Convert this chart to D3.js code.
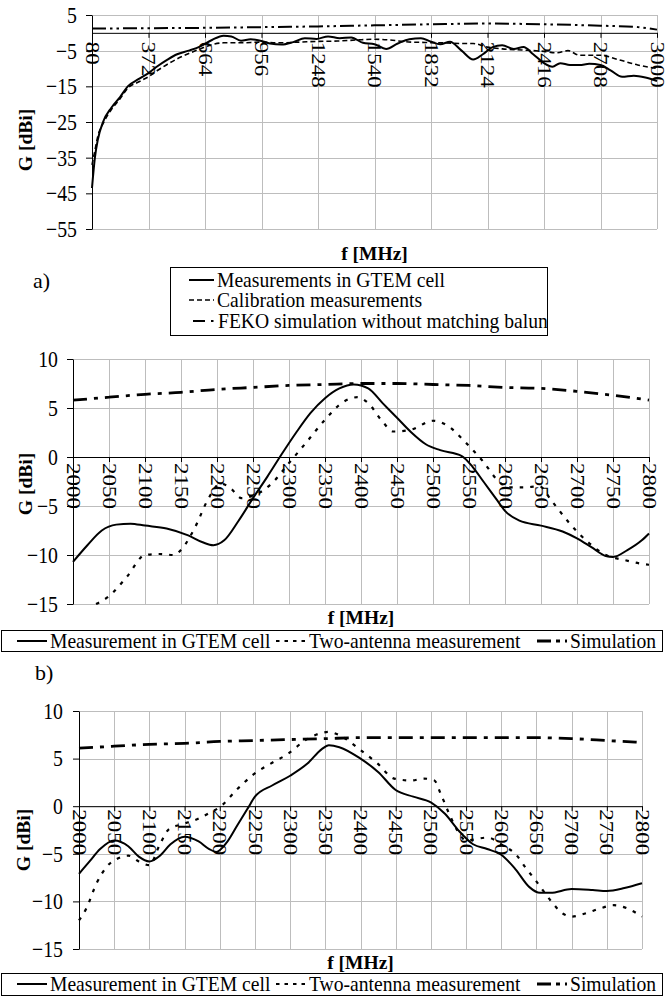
<!DOCTYPE html>
<html>
<head>
<meta charset="utf-8">
<script src="https://cdn.jsdelivr.net/npm/d3@7"></script>
<style>
body { margin: 0; background: #fff; }
svg text { font-family: "Liberation Serif", "DejaVu Serif", "Times New Roman", Times, serif; fill: #000; }
</style>
</head>
<body>
<svg id="fig" width="665" height="1007" font-family="Liberation Serif, DejaVu Serif, serif"></svg>
<script>
// ---- panel a) data ----
var aTicks = [80, 372, 664, 956, 1248, 1540, 1832, 2124, 2416, 2708, 3000];
var aYTicks = [5, -5, -15, -25, -35, -45, -55];
var aMeasF = [80,95,110,137,180,225,265,320,372,420,470,520,580,640,700,760,800,850,900,950,1000,1060,1120,1180,1240,1300,1360,1420,1480,1540,1600,1660,1720,1780,1832,1880,1930,1990,2050,2100,2150,2200,2260,2310,2360,2416,2460,2500,2550,2600,2650,2708,2760,2820,2880,2940,3000];
var aMeasG = [-43.5,-35,-30,-25,-21,-18,-15,-13,-11.3,-9.3,-7.5,-6,-5,-3.8,-2,-0.8,-1,-2.2,-1.8,-2.2,-3,-3.3,-2.6,-1.5,-1.7,-1,-1.5,-1.3,-2.8,-3.2,-4.5,-3,-1.8,-1.5,-2.5,-3.2,-2.5,-5,-7.5,-6,-4,-3.5,-4.5,-4,-6,-8.5,-9.5,-8.5,-9,-9,-8.7,-9,-10.5,-12.3,-12,-12.5,-13.5];
var aCalF = [80,95,110,137,180,225,265,320,372,420,470,520,580,640,700,760,850,950,1050,1150,1250,1350,1450,1540,1620,1700,1800,1900,2000,2050,2124,2200,2300,2416,2480,2540,2600,2708,2800,2900,3000];
var aCalG = [-37,-33,-29,-25.5,-21.5,-18.5,-15.5,-13.8,-12.3,-10.5,-8.8,-7.3,-5.8,-4.5,-3.3,-2.8,-2.8,-2.6,-2.8,-2.6,-2.4,-2.3,-2,-1.8,-2,-2.5,-2.7,-2.8,-3,-3,-4,-4.5,-4.8,-5.2,-5.6,-5,-6.3,-6.3,-7.5,-9,-10];
var aFekoF = [80, 372, 664, 956, 1248, 1540, 1832, 2124, 2416, 2708, 2900, 3000];
var aFekoG = [1.2, 1.3, 1.4, 1.6, 1.8, 2.1, 2.4, 2.6, 2.4, 2.0, 1.6, 0.9];

// ---- panels b) and c) share the frequency grid ----
var bcTicks = d3.range(2000, 2801, 50);
var bcYTicks = [10, 5, 0, -5, -10, -15];

// panel b)
var bMeasF = [2000,2020,2040,2060,2080,2100,2130,2160,2180,2195,2210,2230,2250,2270,2290,2310,2330,2350,2370,2390,2410,2430,2450,2470,2490,2510,2540,2555,2570,2590,2600,2620,2650,2680,2700,2720,2740,2750,2770,2790,2800];
var bMeasG = [-10.7,-9,-7.5,-6.9,-6.8,-7,-7.3,-8,-8.7,-9,-8.5,-6.5,-4.2,-2,0.3,2.5,4.5,6,7,7.4,7,5.5,4,2.5,1.3,0.7,0.1,-1,-2.5,-4.5,-5.5,-6.5,-7,-7.6,-8.3,-9.2,-10.1,-10.2,-9.5,-8.5,-7.8];
var bTwoF = [2032,2050,2075,2100,2120,2140,2152,2170,2187,2205,2219,2234,2252,2276,2299,2323,2350,2375,2395,2410,2430,2445,2470,2500,2520,2545,2570,2590,2605,2625,2648,2664,2690,2717,2740,2765,2790,2800];
var bTwoG = [-15,-14.2,-12.2,-10,-9.9,-10,-9.3,-7.1,-4.4,-2.7,-3.2,-4.2,-3.9,-2.7,-0.7,1.4,3.8,5.6,6.1,5.5,3.6,2.6,2.8,3.7,3.2,1.5,-0.5,-2.4,-3.1,-3.1,-3,-4.4,-6.8,-8.8,-10,-10.5,-10.9,-11];
var bSimG = [5.8,6.1,6.4,6.6,6.9,7.1,7.3,7.4,7.5,7.5,7.4,7.3,7.1,7.0,6.7,6.3,5.8];

// panel c)
var cMeasF = [2000,2015,2030,2050,2070,2085,2100,2115,2130,2150,2170,2185,2195,2210,2225,2240,2250,2275,2300,2325,2345,2355,2370,2400,2425,2450,2475,2500,2520,2540,2560,2580,2600,2620,2640,2655,2670,2700,2730,2750,2775,2800];
var cMeasG = [-7.1,-5.8,-4.5,-3.6,-4.2,-5.3,-5.8,-5.2,-4,-3.2,-3.7,-4.5,-4.8,-3.8,-2,-0.2,1,2.2,3.2,4.5,6,6.4,6.2,5,3.6,1.7,1,0.4,-0.8,-2.6,-4,-4.5,-5.1,-6.6,-8.5,-9.1,-9.1,-8.7,-8.8,-8.9,-8.6,-8.1];
var cTwoF = [2000,2010,2025,2040,2055,2070,2085,2100,2115,2128,2146,2170,2188,2200,2225,2249,2273,2297,2321,2345,2355,2369,2400,2424,2448,2472,2490,2505,2514,2526,2538,2550,2580,2604,2620,2634,2652,2670,2688,2700,2718,2742,2760,2778,2800];
var cTwoG = [-12,-10.8,-8.1,-6.3,-5.5,-5.2,-5.8,-6.2,-4,-2.4,-1.9,-1.3,-0.6,-0.1,1.8,3.4,4.5,5.5,6.9,7.7,7.8,7.5,5.9,4.5,2.9,2.7,2.9,2.7,1.3,-0.8,-2.6,-3.6,-3.3,-4.2,-5,-6.4,-8.1,-9.9,-11.3,-11.6,-11.3,-10.7,-10.4,-10.7,-11.6];
var cSimG = [6.1,6.3,6.5,6.6,6.8,6.9,7.0,7.1,7.2,7.2,7.2,7.2,7.2,7.2,7.1,6.9,6.7];

var FONT = "Liberation Serif, DejaVu Serif, Times New Roman, serif";
var SX = 0.86;        // horizontal squeeze of the tick text
var TICK_FONT = 23;
var GRID = "#bdbdbd";

var svg = d3.select("#fig");

function zip(f, g) {
    return f.map(function(d, i) { return [d, g[i]]; });
}

function drawPanel(p) {
    var x = d3.scaleLinear().domain(p.xDomain).range([p.left, p.right]);
    var y = d3.scaleLinear().domain(p.yDomain).range([p.bottom, p.top]);
    var g = svg.append("g");

    // gridlines
    g.selectAll(".hgrid").data(p.yTicks).enter().append("line")
        .attr("x1", p.left).attr("x2", p.right)
        .attr("y1", d => Math.round(y(d)) + 0.5).attr("y2", d => Math.round(y(d)) + 0.5)
        .attr("stroke", GRID).attr("stroke-width", 1);
    g.selectAll(".vgrid").data(p.xTicks.slice(1)).enter().append("line")
        .attr("x1", d => Math.round(x(d)) + 0.5).attr("x2", d => Math.round(x(d)) + 0.5)
        .attr("y1", p.top).attr("y2", p.bottom)
        .attr("stroke", GRID).attr("stroke-width", 1);

    // left axis
    var leftAxis = d3.axisLeft(y).tickValues(p.yTicks).tickSizeInner(6).tickSizeOuter(0);
    var yAxis = g.append("g").attr("transform", `translate(${p.left},0)`).call(leftAxis)
        .attr("font-family", FONT);
    yAxis.select(".domain").attr("stroke", "#000");
    yAxis.selectAll("text")
        .attr("font-family", FONT).attr("font-size", TICK_FONT)
        .attr("x", -p.yPad / SX)
        .attr("transform", `scale(${SX},1)`);

    // category axis crossing at 0
    var bottomAxis = d3.axisBottom(x).tickValues(p.xTicks).tickSizeInner(5).tickSizeOuter(0)
        .tickFormat(d3.format("d"));
    var xAxis = g.append("g").attr("transform", `translate(0,${y(0)})`).call(bottomAxis)
        .attr("font-family", FONT);
    xAxis.select(".domain").attr("stroke", "#000");
    xAxis.selectAll("text")
        .attr("font-family", FONT).attr("font-size", TICK_FONT)
        .attr("x", p.xPad).attr("y", 0).attr("dy", "0.35em")
        .style("text-anchor", "start")
        .attr("transform", `scale(${SX},1) rotate(90)`);

    // series
    p.series.forEach(function(s) {
        var line = d3.line()
            .x(d => x(d[0])).y(d => y(d[1]))
            .curve(d3.curveMonotoneX);
        g.append("path")
            .datum(s.data)
            .attr("fill", "none")
            .attr("stroke", "#000")
            .attr("stroke-width", s.width)
            .attr("stroke-dasharray", s.dash)
            .attr("d", line);
    });

    // axis titles
    g.append("text")
        .attr("transform", `translate(${p.gX},${p.gY}) rotate(-90)`)
        .attr("text-anchor", "middle").attr("dy", "0.35em")
        .attr("font-family", FONT)
        .attr("font-weight", "bold").attr("font-size", 19.5)
        .text("G [dBi]");
    g.append("text")
        .attr("x", (p.left + p.right) / 2).attr("y", p.fY)
        .attr("text-anchor", "middle").attr("dy", "0.35em")
        .attr("font-family", FONT)
        .attr("font-weight", "bold").attr("font-size", 19.5)
        .text("f [MHz]");
}

function drawLegend(box, items) {
    svg.append("rect")
        .attr("x", box.x + 0.5).attr("y", box.y + 0.5)
        .attr("width", box.w).attr("height", box.h)
        .attr("fill", "#fff").attr("stroke", "#000").attr("stroke-width", 1);
    items.forEach(function(it) {
        svg.append("line")
            .attr("x1", it.x).attr("x2", it.x + it.len)
            .attr("y1", it.y).attr("y2", it.y)
            .attr("stroke", "#000").attr("stroke-width", it.width)
            .attr("stroke-dasharray", it.dash);
        svg.append("text")
            .attr("transform", `translate(${it.x + it.len + 3},${it.y}) scale(${box.sx},1)`)
            .attr("dy", "0.35em").attr("font-size", box.font)
            .attr("font-family", FONT)
            .text(it.label);
    });
}

// ---- a) ----
drawPanel({
    left: 92, right: 657, top: 15, bottom: 229,
    xDomain: [80, 3000], yDomain: [-55, 5],
    xTicks: aTicks, yTicks: aYTicks,
    yPad: 15, xPad: 9,
    gX: 25, gY: 140, fY: 253,
    series: [
        {data: zip(aFekoF, aFekoG), width: 2, dash: "14,4,2.5,4,2.5,4"},
        {data: zip(aCalF, aCalG), width: 1.6, dash: "5,3"},
        {data: zip(aMeasF, aMeasG), width: 2, dash: null}
    ]
});
drawLegend({x: 170, y: 267, w: 377, h: 68, font: 20, sx: 0.98}, [
    {x: 189, y: 280, len: 25, width: 2, dash: null, label: "Measurements in GTEM cell"},
    {x: 189, y: 300, len: 25, width: 1.6, dash: "5,3", label: "Calibration measurements"},
    {x: 193, y: 321, len: 22, width: 2, dash: "12,6,2.5,6", label: "FEKO simulation without matching balun"}
]);
svg.append("text").attr("x", 33).attr("y", 280).attr("dy", "0.35em")
    .attr("font-family", FONT).attr("font-size", 22).text("a)");

// ---- b) ----
drawPanel({
    left: 73, right: 649, top: 359, bottom: 604,
    xDomain: [2000, 2800], yDomain: [-15, 10],
    xTicks: bcTicks, yTicks: bcYTicks,
    yPad: 15, xPad: 6,
    gX: 25, gY: 484, fY: 617,
    series: [
        {data: zip(bcTicks, bSimG), width: 2.8, dash: "14,7,4,7"},
        {data: zip(bTwoF, bTwoG), width: 2.2, dash: "3.5,7"},
        {data: zip(bMeasF, bMeasG), width: 2, dash: null}
    ]
});
drawLegend({x: 1, y: 630, w: 661, h: 21, font: 20, sx: 0.98}, [
    {x: 17, y: 641, len: 30, width: 2, dash: null, label: "Measurement in GTEM cell"},
    {x: 276, y: 641, len: 30, width: 2.2, dash: "3.5,5", label: "Two-antenna measurement"},
    {x: 537, y: 641, len: 30, width: 2.8, dash: "14,5,4,5", label: "Simulation"}
]);
svg.append("text").attr("x", 35).attr("y", 672).attr("dy", "0.35em")
    .attr("font-family", FONT).attr("font-size", 22).text("b)");

// ---- c) ----
drawPanel({
    left: 79, right: 642, top: 711, bottom: 949,
    xDomain: [2000, 2800], yDomain: [-15, 10],
    xTicks: bcTicks, yTicks: bcYTicks,
    yPad: 16, xPad: 3,
    gX: 23, gY: 840, fY: 962,
    series: [
        {data: zip(bcTicks, cSimG), width: 2.8, dash: "14,7,4,7"},
        {data: zip(cTwoF, cTwoG), width: 2.2, dash: "3.5,7"},
        {data: zip(cMeasF, cMeasG), width: 2, dash: null}
    ]
});
drawLegend({x: 1, y: 973, w: 661, h: 22, font: 20, sx: 0.98}, [
    {x: 17, y: 984, len: 30, width: 2, dash: null, label: "Measurement in GTEM cell"},
    {x: 276, y: 984, len: 30, width: 2.2, dash: "3.5,5", label: "Two-antenna measurement"},
    {x: 537, y: 984, len: 30, width: 2.8, dash: "14,5,4,5", label: "Simulation"}
]);
</script>
</body>
</html>
